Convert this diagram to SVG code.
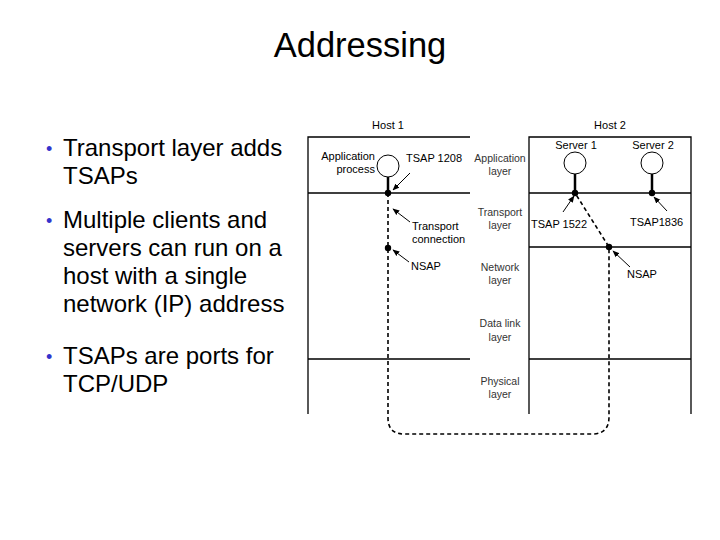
<svg xmlns="http://www.w3.org/2000/svg" width="720" height="540" viewBox="0 0 720 540">
<defs>
<marker id="ah" viewBox="0 0 10 10" refX="9" refY="5" markerWidth="7" markerHeight="7" orient="auto" markerUnits="userSpaceOnUse">
<path d="M0,1 L10,5 L0,9 z" fill="#000"/>
</marker>
<style>
.t{font-family:"Liberation Sans",Arial,sans-serif;fill:#000}
.title{font-size:34.5px}
.b{font-size:24px}
.bul{font-size:18px;fill:#3333cc}
.s{font-size:11px}
.l{font-size:10.5px;fill:#333}
.frame{stroke:#000;stroke-width:1.3;fill:none}
.stem{stroke:#000;stroke-width:2.5}
.circ{fill:#fff;stroke:#000;stroke-width:1}
.arr{stroke:#000;stroke-width:1;fill:none;marker-end:url(#ah)}
.dash{stroke:#000;stroke-width:1.6;fill:none;stroke-dasharray:4,3}
</style>
</defs>
<rect width="720" height="540" fill="#fff"/>
<text class="t title" x="360" y="57" text-anchor="middle">Addressing</text>

<g id="bullets">
<text class="t bul" x="46" y="155">•</text>
<text class="t b" x="63" y="156">Transport layer adds</text>
<text class="t b" x="63" y="184">TSAPs</text>
<text class="t bul" x="46" y="227">•</text>
<text class="t b" x="63" y="228">Multiple clients and</text>
<text class="t b" x="63" y="256">servers can run on a</text>
<text class="t b" x="63" y="284">host with a single</text>
<text class="t b" x="63" y="312">network (IP) address</text>
<text class="t bul" x="46" y="363">•</text>
<text class="t b" x="63" y="364">TSAPs are ports for</text>
<text class="t b" x="63" y="392">TCP/UDP</text>
</g>

<g id="host1">
<text class="t s" x="388" y="129" text-anchor="middle">Host 1</text>
<path class="frame" d="M308,414 V137 H470 M308,193 H470 M308,359 H470"/>
</g>

<g id="host2">
<text class="t s" x="610" y="129" text-anchor="middle">Host 2</text>
<path class="frame" d="M529,414 V137 H691 V414 M529,193 H691 M529,247 H691 M529,359 H691"/>
</g>

<g id="layer-labels">
<text class="t l" x="500" y="162" text-anchor="middle">Application</text>
<text class="t l" x="500" y="175" text-anchor="middle">layer</text>
<text class="t l" x="500" y="216" text-anchor="middle">Transport</text>
<text class="t l" x="500" y="229" text-anchor="middle">layer</text>
<text class="t l" x="500" y="271" text-anchor="middle">Network</text>
<text class="t l" x="500" y="284" text-anchor="middle">layer</text>
<text class="t l" x="500" y="327" text-anchor="middle">Data link</text>
<text class="t l" x="500" y="341" text-anchor="middle">layer</text>
<text class="t l" x="500" y="385" text-anchor="middle">Physical</text>
<text class="t l" x="500" y="398" text-anchor="middle">layer</text>
</g>

<g id="connectors">
<path class="dash" d="M388,193 V418 Q388,434 404,434 H594 Q609,433 609,417 V247 L575,193"/>
<line class="arr" x1="410" y1="173" x2="393" y2="190"/>
<line class="arr" x1="410" y1="222" x2="393" y2="209"/>
<line class="arr" x1="409" y1="262" x2="393" y2="250"/>
<line class="arr" x1="563" y1="212" x2="574" y2="196"/>
<line class="arr" x1="667" y1="211" x2="654" y2="197"/>
<line class="arr" x1="630" y1="267" x2="613" y2="251"/>
</g>

<g id="app-process">
<line class="stem" x1="388" y1="177" x2="388" y2="193"/>
<circle class="circ" cx="388" cy="166" r="11"/>
<circle cx="388" cy="193" r="3.2" fill="#000"/>
<text class="t s" x="375" y="160" text-anchor="end">Application</text>
<text class="t s" x="375" y="173" text-anchor="end">process</text>
<text class="t s" x="406" y="162">TSAP 1208</text>
</g>

<g id="host1-nsap">
<circle cx="388" cy="248" r="3.2" fill="#000"/>
<text class="t s" x="412" y="230">Transport</text>
<text class="t s" x="412" y="243">connection</text>
<text class="t s" x="411" y="270">NSAP</text>
</g>

<g id="server1">
<text class="t s" x="576" y="149" text-anchor="middle">Server 1</text>
<line class="stem" x1="575" y1="174" x2="575" y2="193"/>
<circle class="circ" cx="575" cy="163" r="11"/>
<circle cx="575" cy="193" r="3.2" fill="#000"/>
<text class="t s" x="531" y="228">TSAP 1522</text>
</g>

<g id="server2">
<text class="t s" x="653" y="149" text-anchor="middle">Server 2</text>
<line class="stem" x1="652" y1="174" x2="652" y2="193"/>
<circle class="circ" cx="652" cy="163" r="11"/>
<circle cx="652" cy="193" r="3.2" fill="#000"/>
<text class="t s" x="630" y="226">TSAP1836</text>
</g>

<g id="host2-nsap">
<circle cx="609" cy="247" r="3.2" fill="#000"/>
<text class="t s" x="627" y="278">NSAP</text>
</g>
</svg>
